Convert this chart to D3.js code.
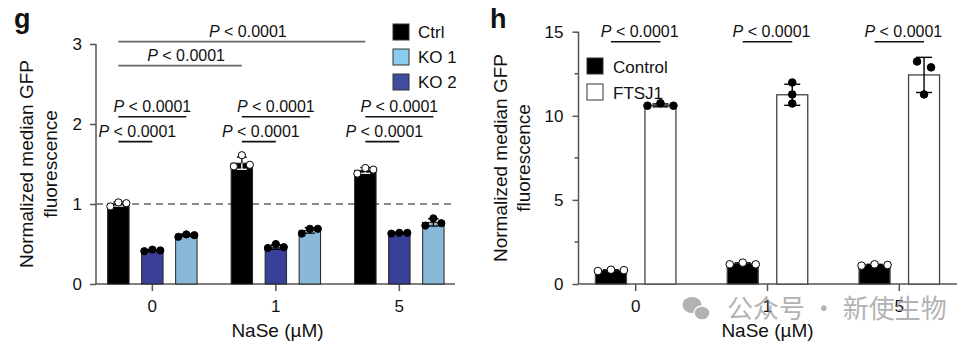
<!DOCTYPE html>
<html>
<head>
<meta charset="utf-8">
<script src="https://cdn.jsdelivr.net/npm/d3@7"></script>
<style>
  body { margin: 0; background: #fff; }
  svg text { font-family: "Liberation Sans", Arial, sans-serif; fill: #111; }
</style>
</head>
<body>
<div id="chart"></div>
<script>
// ---- data ----
const doses = ["0", "1", "5"];

// panel g
const gSeries = ["Ctrl", "KO 2", "KO 1"];          // bar order within a group
const gLegend = ["Ctrl", "KO 1", "KO 2"];          // legend order
const gBars = {
  "Ctrl": [1.0, 1.51, 1.42],
  "KO 2": [0.42, 0.46, 0.64],
  "KO 1": [0.61, 0.67, 0.77]
};
const gPoints = {
  "Ctrl": [[0.97, 1.02, 1.01], [1.47, 1.61, 1.49], [1.38, 1.45, 1.43]],
  "KO 2": [[0.41, 0.43, 0.42], [0.45, 0.50, 0.46], [0.63, 0.64, 0.64]],
  "KO 1": [[0.59, 0.62, 0.61], [0.63, 0.69, 0.69], [0.73, 0.82, 0.76]]
};
const gTicks = [0, 1, 2, 3];

// panel h
const hSeries = ["Control", "FTSJ1"];
const hBars = {
  "Control": [0.80, 1.20, 1.13],
  "FTSJ1": [10.62, 11.25, 12.43]
};
const hPoints = {
  "Control": [[0.77, 0.85, 0.82], [1.17, 1.27, 1.17], [1.09, 1.17, 1.13]],
  "FTSJ1": [[10.6, 10.75, 10.6], [11.98, 11.27, 10.73], [13.23, 12.88, 11.27]]
};
const hTicks = [0, 5, 10, 15];
const hMinorTicks = [2.5, 7.5, 12.5];

const pLabel = "0.0001";

// ---- styles ----
const colors = { "Ctrl": "#000", "KO 1": "#8ab8d9", "KO 2": "#3a3f98", "Control": "#000", "FTSJ1": "#fff" };
const legendColors = { "Ctrl": "#000", "KO 1": "#88cdf0", "KO 2": "#3f4d9f", "Control": "#000", "FTSJ1": "#fff" };
const axisColor = "#555";

const svg = d3.select("#chart").append("svg").attr("width", 970).attr("height", 349);

function pText(sel, x, y) {
  const t = sel.append("text").attr("x", x).attr("y", y).attr("text-anchor", "middle").attr("font-size", 16);
  t.append("tspan").attr("font-style", "italic").text("P");
  t.append("tspan").text(" < " + pLabel);
}

function yTitle(x1, x2, cy) {
  svg.append("text").attr("transform", `translate(${x1},${cy}) rotate(-90)`)
    .attr("text-anchor", "middle").attr("font-size", 19).text("Normalized median GFP");
  svg.append("text").attr("transform", `translate(${x2},${cy}) rotate(-90)`)
    .attr("text-anchor", "middle").attr("font-size", 19).text("fluorescence");
}

function styleAxis(g) {
  g.selectAll("path.domain").remove();
  g.selectAll("line").attr("stroke", axisColor).attr("stroke-width", 1.5);
  g.selectAll("text").attr("font-size", 17).attr("fill", "#111");
}

// ================= panel g =================
{
  const x0 = d3.scaleBand().domain(doses).range([90.6, 461.1]);
  const x1 = d3.scaleBand().domain(gSeries).range([-51, 51]).paddingInner(0.37).paddingOuter(0.185);
  const y = d3.scaleLinear().domain([0, 3]).range([284, 44]);
  const left = 96, right = 455;
  const cx = (dose, s) => x0(dose) + x0.bandwidth() / 2 + x1(s) + x1.bandwidth() / 2;

  svg.append("text").attr("x", 14).attr("y", 28).attr("font-size", 27).attr("font-weight", "bold").text("g");

  // y axis
  const ya = svg.append("g").attr("transform", `translate(${left},0)`)
    .call(d3.axisLeft(y).tickValues(gTicks).tickFormat(d3.format("d")).tickSize(6).tickPadding(8).tickSizeOuter(0));
  styleAxis(ya);
  svg.append("line").attr("x1", left).attr("x2", left).attr("y1", y(3)).attr("y2", y(0))
    .attr("stroke", axisColor).attr("stroke-width", 1.5);

  // x axis
  const xa = svg.append("g").attr("transform", `translate(0,${y(0)})`)
    .call(d3.axisBottom(x0).tickSize(7).tickPadding(9).tickSizeOuter(0));
  styleAxis(xa);
  svg.append("line").attr("x1", left).attr("x2", right).attr("y1", y(0)).attr("y2", y(0))
    .attr("stroke", axisColor).attr("stroke-width", 1.5);

  // reference line
  svg.append("line").attr("x1", left).attr("x2", right).attr("y1", y(1)).attr("y2", y(1))
    .attr("stroke", "#666").attr("stroke-width", 1.5).attr("stroke-dasharray", "7,5");

  // bars
  gSeries.forEach(s => {
    svg.append("g").selectAll("rect").data(doses).join("rect")
      .attr("x", d => x0(d) + x0.bandwidth() / 2 + x1(s))
      .attr("width", x1.bandwidth())
      .attr("y", (d, i) => y(gBars[s][i]))
      .attr("height", (d, i) => y(0) - y(gBars[s][i]))
      .attr("fill", colors[s])
      .attr("stroke", "#222").attr("stroke-width", 1);
  });

  // error bars + points
  const offs = [-8, 0, 8];
  gSeries.forEach(s => {
    doses.forEach((d, i) => {
      const m = gBars[s][i], sd = d3.deviation(gPoints[s][i]);
      const c = cx(d, s);
      const eb = svg.append("g").attr("stroke", s === "Ctrl" ? "#fff" : "#000").attr("stroke-width", 1.3);
      eb.append("line").attr("x1", c).attr("x2", c).attr("y1", y(m - sd)).attr("y2", y(m + sd));
      eb.append("line").attr("x1", c - 5).attr("x2", c + 5).attr("y1", y(m + sd)).attr("y2", y(m + sd));
      eb.append("line").attr("x1", c - 5).attr("x2", c + 5).attr("y1", y(m - sd)).attr("y2", y(m - sd));
      eb.append("line").attr("x1", c).attr("x2", c).attr("y1", y(m)).attr("y2", y(m + sd)).attr("stroke", "#000");
      eb.append("line").attr("x1", c - 5).attr("x2", c + 5).attr("y1", y(m + sd)).attr("y2", y(m + sd)).attr("stroke", "#000");
      svg.append("g").selectAll("circle").data(gPoints[s][i]).join("circle")
        .attr("cx", (v, j) => c + offs[j]).attr("cy", v => y(v)).attr("r", 3.6)
        .attr("fill", s === "Ctrl" ? "#fff" : "#000").attr("stroke", "#000").attr("stroke-width", 1);
    });
  });

  // significance
  const sig = svg.append("g");
  const bracket = (xa_, xb, yv, color, dx) => {
    sig.append("line").attr("x1", xa_).attr("x2", xb).attr("y1", y(yv)).attr("y2", y(yv))
      .attr("stroke", color).attr("stroke-width", 1.6);
    pText(sig, (xa_ + xb) / 2 + dx, y(yv) - 5);
  };
  bracket(cx("0", "Ctrl"), cx("5", "Ctrl"), 3.03, "#666", 6);
  bracket(cx("0", "Ctrl"), cx("1", "Ctrl"), 2.73, "#666", 6);
  doses.forEach(d => {
    bracket(cx(d, "Ctrl"), cx(d, "KO 1"), 2.09, "#111", 0);
    bracket(cx(d, "Ctrl"), cx(d, "KO 2"), 1.78, "#111", 2);
  });

  // legend
  const lg = svg.append("g").attr("transform", "translate(393,24)");
  gLegend.forEach((s, i) => {
    lg.append("rect").attr("x", 0).attr("y", i * 25).attr("width", 16).attr("height", 16)
      .attr("fill", legendColors[s]).attr("stroke", "#333").attr("stroke-width", 1);
    lg.append("text").attr("x", 25).attr("y", i * 25 + 14).attr("font-size", 17).text(s);
  });

  yTitle(33, 57, 164);
  svg.append("text").attr("x", (left + right) / 2 + 2).attr("y", 337).attr("text-anchor", "middle")
    .attr("font-size", 19).text("NaSe (µM)");
}

// ================= panel h =================
{
  const x0 = d3.scaleBand().domain(doses).range([569.8, 965.2]);
  const x1 = d3.scaleBand().domain(hSeries).range([-49.5, 49.5]).paddingInner(0.374).paddingOuter(0.187);
  const y = d3.scaleLinear().domain([0, 15]).range([284, 31.7]);
  const left = 578.5, right = 957;
  const cx = (dose, s) => x0(dose) + x0.bandwidth() / 2 + x1(s) + x1.bandwidth() / 2;

  svg.append("text").attr("x", 490).attr("y", 28).attr("font-size", 27).attr("font-weight", "bold").text("h");

  const ya = svg.append("g").attr("transform", `translate(${left},0)`)
    .call(d3.axisLeft(y).tickValues(hTicks).tickFormat(d3.format("d")).tickSize(6).tickPadding(9).tickSizeOuter(0));
  styleAxis(ya);
  svg.append("g").selectAll("line").data(hMinorTicks).join("line")
    .attr("x1", left - 4).attr("x2", left).attr("y1", d => y(d)).attr("y2", d => y(d))
    .attr("stroke", axisColor).attr("stroke-width", 1.5);
  svg.append("line").attr("x1", left).attr("x2", left).attr("y1", y(15)).attr("y2", y(0))
    .attr("stroke", axisColor).attr("stroke-width", 1.5);

  const xa = svg.append("g").attr("transform", `translate(0,${y(0)})`)
    .call(d3.axisBottom(x0).tickSize(7).tickPadding(9).tickSizeOuter(0));
  styleAxis(xa);
  svg.append("line").attr("x1", left).attr("x2", right).attr("y1", y(0)).attr("y2", y(0))
    .attr("stroke", axisColor).attr("stroke-width", 1.5);

  hSeries.forEach(s => {
    svg.append("g").selectAll("rect").data(doses).join("rect")
      .attr("x", d => x0(d) + x0.bandwidth() / 2 + x1(s))
      .attr("width", x1.bandwidth())
      .attr("y", (d, i) => y(hBars[s][i]))
      .attr("height", (d, i) => y(0) - y(hBars[s][i]))
      .attr("fill", colors[s])
      .attr("stroke", "#444").attr("stroke-width", 1.3);
  });

  const jitter = {
    "Control": [[-13, 0, 13], [-13, 0, 13], [-13, 0, 13]],
    "FTSJ1": [[-13, 0, 13], [0, 0, 0], [-7, 7, 0]]
  };
  hSeries.forEach(s => {
    doses.forEach((d, i) => {
      const m = hBars[s][i], sd = d3.deviation(hPoints[s][i]);
      const c = cx(d, s);
      const eb = svg.append("g").attr("stroke", "#000").attr("stroke-width", 1.4);
      eb.append("line").attr("x1", c).attr("x2", c).attr("y1", y(m - sd)).attr("y2", y(m + sd));
      [m + sd, m - sd].forEach(v => eb.append("line").attr("x1", c - 8).attr("x2", c + 8).attr("y1", y(v)).attr("y2", y(v)));
      svg.append("g").selectAll("circle").data(hPoints[s][i]).join("circle")
        .attr("cx", (v, j) => c + jitter[s][i][j]).attr("cy", v => y(v)).attr("r", 3.8)
        .attr("fill", s === "Control" ? "#fff" : "#000").attr("stroke", "#000").attr("stroke-width", 1);
    });
  });

  const sig = svg.append("g");
  doses.forEach(d => {
    const a = cx(d, "Control"), b = cx(d, "FTSJ1");
    sig.append("line").attr("x1", a).attr("x2", b).attr("y1", y(14.4)).attr("y2", y(14.4))
      .attr("stroke", "#111").attr("stroke-width", 1.6);
    pText(sig, (a + b) / 2 + 4, y(14.4) - 5);
  });

  const lg = svg.append("g").attr("transform", "translate(587,58)");
  hSeries.forEach((s, i) => {
    lg.append("rect").attr("x", 0).attr("y", i * 26).attr("width", 16).attr("height", 16)
      .attr("fill", legendColors[s]).attr("stroke", "#333").attr("stroke-width", 1);
    lg.append("text").attr("x", 26).attr("y", i * 26 + 15).attr("font-size", 17).text(s);
  });

  yTitle(507, 530, 158);
  svg.append("text").attr("x", x0("1") + x0.bandwidth() / 2).attr("y", 337).attr("text-anchor", "middle")
    .attr("font-size", 19).text("NaSe (µM)");
}

// watermark
{
  const wm = svg.append("g").attr("opacity", 0.75);
  wm.append("ellipse").attr("cx", 692).attr("cy", 305).attr("rx", 9.5).attr("ry", 8).attr("fill", "#999");
  wm.append("ellipse").attr("cx", 702).attr("cy", 313).attr("rx", 8).attr("ry", 7).attr("fill", "#999")
    .attr("stroke", "#fff").attr("stroke-width", 1.5);
  wm.append("text").attr("x", 727).attr("y", 318).attr("font-size", 26)
    .style("font-family", "'Noto Sans CJK SC', sans-serif").style("fill", "#999")
    .text("公众号 · 新使生物");
}
</script>
</body>
</html>
